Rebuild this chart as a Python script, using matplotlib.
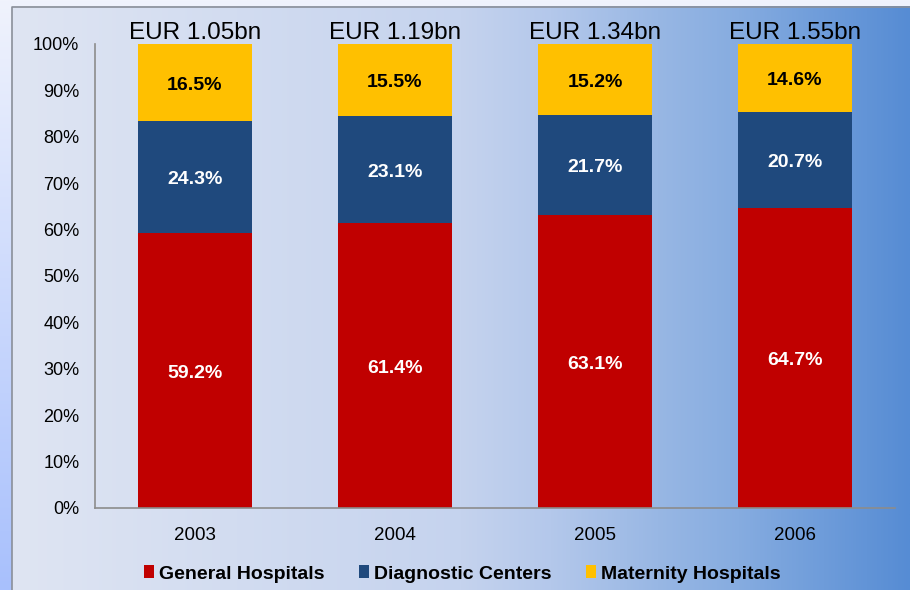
import numpy as np
import matplotlib.pyplot as plt
from matplotlib.patches import Patch

plt.rcParams['font.family'] = ['Liberation Sans', 'DejaVu Sans']

years = ['2003', '2004', '2005', '2006']
totals = ['EUR 1.05bn', 'EUR 1.19bn', 'EUR 1.34bn', 'EUR 1.55bn']
general = [59.2, 61.4, 63.1, 64.7]
diagnostic = [24.3, 23.1, 21.7, 20.7]
maternity = [16.5, 15.5, 15.2, 14.6]
series_names = ['General Hospitals', 'Diagnostic Centers', 'Maternity Hospitals']
colors = ['#c00000', '#1f497d', '#ffc000']
text_colors = ['white', 'white', 'black']

W, H = 910, 590
fig = plt.figure(figsize=(W / 100, H / 100), dpi=100)

# outer frame: vertical gradient (light at top, blue at bottom)
bg = fig.add_axes([0, 0, 1, 1], zorder=-2)
bg.set_axis_off()
t = np.linspace(0, 1, 200)[:, None]
top_c = np.array([240, 243, 252]) / 255
bot_c = np.array([168, 192, 253]) / 255
outer = top_c[None, None, :] * (1 - t[..., None]) + bot_c[None, None, :] * t[..., None]
outer = np.repeat(outer, 2, axis=1)
bg.imshow(outer, extent=[0, W, 0, H], aspect='auto')

# inner panel: horizontal gradient
stops = [0.0, 0.5, 0.6, 0.72, 0.81, 1.0]
cols = np.array([[223, 229, 243], [197, 211, 238], [180, 200, 235],
                 [152, 183, 228], [134, 172, 224], [86, 140, 212]]) / 255
xs = np.linspace(0, 1, 600)
grad = np.stack([np.interp(xs, stops, cols[:, k]) for k in range(3)], axis=-1)
grad = np.repeat(grad[None, :, :], 2, axis=0)
bg.imshow(grad, extent=[12, W, 0, H - 6], aspect='auto')
bg.plot([11.5, 11.5, W], [0, H - 6.5, H - 6.5], color='#8a8f99', lw=1.2)
bg.set_xlim(0, W)
bg.set_ylim(0, H)

ax = fig.add_axes([95 / W, 1 - 508 / H, 800 / W, (508 - 44) / H])
ax.patch.set_visible(False)

x = np.arange(len(years))
bottom = np.zeros(len(years))
for vals, c, tc in zip([general, diagnostic, maternity], colors, text_colors):
    vals = np.array(vals)
    ax.bar(x, vals, width=0.57, bottom=bottom, color=c)
    for i, v in enumerate(vals):
        ax.annotate(f'{v:.1f}%', xy=(x[i], bottom[i] + v / 2), xytext=(0, -2),
                    textcoords='offset points', ha='center', va='center',
                    color=tc, fontsize=14, fontweight='bold')
    bottom += vals

for i, lab in enumerate(totals):
    ax.annotate(lab, xy=(x[i], 100), xytext=(0, 3.5), textcoords='offset points',
                ha='center', va='baseline', fontsize=17.5, color='black',
                annotation_clip=False)

ax.set_xlim(-0.5, 3.5)
ax.set_ylim(0, 100)
ax.set_yticks(range(0, 101, 10))
ax.set_yticklabels([f'{v}%' for v in range(0, 101, 10)])
ax.set_xticks(x)
ax.set_xticklabels(years)
ax.tick_params(axis='y', length=0, pad=11.3, labelsize=13)
ax.tick_params(axis='x', length=0, pad=13.5, labelsize=13.5)
for s in ['top', 'right']:
    ax.spines[s].set_visible(False)
for s in ['left', 'bottom']:
    ax.spines[s].set_color('#8c8c8c')
    ax.spines[s].set_linewidth(1.2)

handles = [Patch(facecolor=c, edgecolor='none') for c in colors]
fig.legend(handles, series_names, loc='center', bbox_to_anchor=(0.508, 1 - 574 / H),
           ncol=3, frameon=False, prop={'weight': 'bold', 'size': 14},
           handlelength=0.55, handleheight=0.65, handletextpad=0.25,
           columnspacing=1.75, borderpad=0)

fig.savefig('out.png', dpi=100)
